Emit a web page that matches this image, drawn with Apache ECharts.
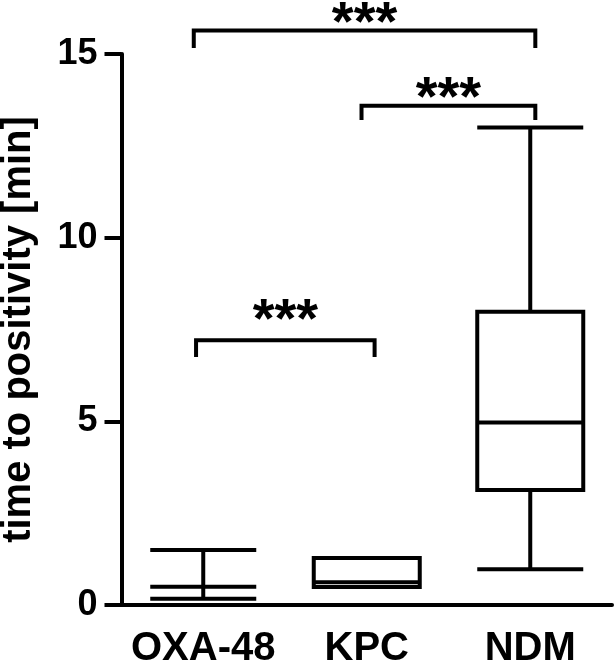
<!DOCTYPE html>
<html>
<head>
<meta charset="utf-8">
<script src="https://cdn.jsdelivr.net/npm/echarts@6/dist/echarts.min.js"></script>
<style>html,body{margin:0;padding:0;background:#fff}#c{width:615px;height:663px}</style>
</head>
<body>
<div id="c"></div>
<script>
const categories = ['OXA-48', 'KPC', 'NDM'];
// [min, Q1, median, Q3, max]
const boxValues = [
  [0.17, 0.5, 0.5, 0.5, 1.5],
  [0.49, 0.49, 0.62, 1.28, 1.28],
  [0.97, 3.13, 4.97, 7.98, 13.0]
];
const yTicks = [0, 5, 10, 15];
// significance brackets: [fromIndex, toIndex, barY, legY, starY, label]
const brackets = [
  [-0.058, 2.031, 15.64, 15.16, 16.15, '***'],
  [0.968, 2.031, 13.59, 13.20, 14.11, '***'],
  [-0.044, 1.048, 7.21, 6.75, 8.06, '***']
];

const FONT = 'Liberation Sans';
const bracketSeries = brackets.map(b => ({
  type: 'line', xAxisIndex: 1, yAxisIndex: 0, clip: false, silent: true,
  symbol: 'none',
  lineStyle: { color: '#000', width: 4, cap: 'butt', join: 'miter' },
  data: [[b[0], b[3]], [b[0], b[2]], [b[1], b[2]], [b[1], b[3]]],
  z: 5
}));
const starSeries = {
  type: 'scatter', xAxisIndex: 1, yAxisIndex: 0, clip: false, silent: true,
  symbolSize: 0,
  itemStyle: { opacity: 1, color: '#000' },
  data: brackets.map(b => ({ value: [(b[0] + b[1]) / 2, b[4]], name: b[5] })),
  label: {
    show: true, position: 'inside', align: 'center', verticalAlign: 'middle',
    offset: [0, 13],
    formatter: p => p.name,
    fontFamily: FONT, fontWeight: 'bold', fontSize: 56, color: '#000', opacity: 1
  }
};

const chart = echarts.init(document.getElementById('c'));
chart.setOption({
  animation: false,
  backgroundColor: '#fff',
  grid: { left: 121.5, right: 3, top: 54, bottom: 58, containLabel: false, outerBoundsMode: 'none' },
  xAxis: [{
    type: 'category', data: categories, boundaryGap: true,
    axisLine: { onZero: false, lineStyle: { color: '#000', width: 4 } },
    axisTick: { alignWithLabel: true, length: 17, lineStyle: { color: '#000', width: 4 } },
    axisLabel: { interval: 0, color: '#000', fontFamily: FONT, fontWeight: 'bold', fontSize: 40, margin: 24 },
    splitLine: { show: false }
  }, {
    type: 'value', min: -0.5, max: 2.5, show: false
  }],
  yAxis: {
    type: 'value', min: 0, max: 15, interval: 5,
    name: 'time to positivity [min]', nameLocation: 'middle', nameGap: 83,
    nameTextStyle: { color: '#000', fontFamily: FONT, fontWeight: 'bold', fontSize: 40 },
    axisLine: { show: true, onZero: false, lineStyle: { color: '#000', width: 4 } },
    axisTick: { show: true, length: 17, lineStyle: { color: '#000', width: 4 } },
    axisLabel: {
      color: '#000', fontFamily: FONT, fontWeight: 'bold', fontSize: 36, margin: 24,
      formatter: v => yTicks.includes(v) ? String(v) : ''
    },
    splitLine: { show: false }
  },
  series: [{
    type: 'boxplot', xAxisIndex: 0, yAxisIndex: 0,
    boxWidth: [106, 106],
    itemStyle: { color: '#fff', borderColor: '#000', borderWidth: 4 },
    data: boxValues,
    z: 3
  }].concat(bracketSeries, [starSeries])
});
</script>
</body>
</html>
